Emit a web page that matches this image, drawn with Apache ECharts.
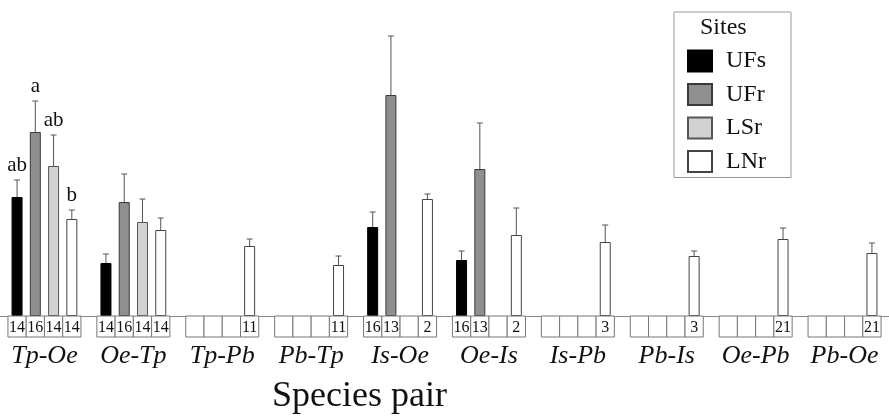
<!DOCTYPE html>
<html>
<head>
<meta charset="utf-8">
<script src="https://cdn.jsdelivr.net/npm/echarts@6/dist/echarts.min.js"></script>
<style>
  html, body { margin: 0; padding: 0; background: #fff; }
  #chart { width: 889px; height: 417px; }
</style>
</head>
<body>
<div id="chart"></div>
<script>
const categories = ["Tp-Oe", "Oe-Tp", "Tp-Pb", "Pb-Tp", "Is-Oe", "Oe-Is", "Is-Pb", "Pb-Is", "Oe-Pb", "Pb-Oe"];
const sites = ["UFs", "UFr", "LSr", "LNr"];

// bar heights (arbitrary units)
const meanUFs = [11.9, 5.3, null, null, 8.9, 5.6, null, null, null, null];
const meanUFr = [18.4, 11.4, null, null, 22.1, 14.7, null, null, null, null];
const meanLSr = [15.0, 9.4, null, null, null, null, null, null, null, null];
const meanLNr = [9.7, 8.6, 7.0, 5.1, 11.7, 8.1, 7.4, 6.0, 7.7, 6.3];

// error bar lengths
const errUFs = [1.7, 0.9, null, null, 1.5, 0.9, null, null, null, null];
const errUFr = [3.1, 2.8, null, null, 5.9, 4.6, null, null, null, null];
const errLSr = [3.1, 2.3, null, null, null, null, null, null, null, null];
const errLNr = [0.9, 1.2, 0.7, 0.9, 0.5, 2.7, 1.7, 0.5, 1.1, 1.0];

// sample sizes shown in the boxes under the bars
const nUFs = [14, 14, null, null, 16, 16, null, null, null, null];
const nUFr = [16, 16, null, null, 13, 13, null, null, null, null];
const nLSr = [14, 14, null, null, null, null, null, null, null, null];
const nLNr = [14, 14, 11, 11, 2, 2, 3, 3, 21, 21];

// significance letters over the Tp-Oe group
const sigLetters = ["ab", "a", "ab", "b"];

const means = [meanUFs, meanUFr, meanLSr, meanLNr];
const errs = [errUFs, errUFr, errLSr, errLNr];
const counts = [nUFs, nUFr, nLSr, nLNr];

const FONT = "'Liberation Serif', 'DejaVu Serif', serif";
const SLOT = 18.25;
const BOX_H = 21;
const fills = ["#000000", "#8f8f8f", "#d2d2d2", "#ffffff"];
const borders = ["#000000", "#3a3a3a", "#555555", "#444444"];

const chart = echarts.init(document.getElementById("chart"));

const barSeries = sites.map((name, s) => ({
  name,
  type: "bar",
  barWidth: 11,
  barGap: "66%",
  itemStyle: { color: fills[s], borderColor: borders[s], borderWidth: 1 },
  data: means[s].map(v => (v == null ? "-" : v)),
  z: 2
}));

const errSeries = sites.map((name, s) => {
  const data = [];
  means[s].forEach((m, i) => {
    if (m != null) data.push([i, m, errs[s][i]]);
  });
  return {
    type: "custom",
    name: name + "-err",
    data,
    z: 3,
    renderItem: (params, api) => {
      const cat = api.value(0);
      const m = api.value(1);
      const e = api.value(2);
      const x = api.coord([cat, 0])[0] + (s - 1.5) * SLOT;
      const y0 = api.coord([cat, m])[1];
      const y1 = api.coord([cat, m + e])[1];
      const children = [
        { type: "line", shape: { x1: x, y1: y0, x2: x, y2: y1 }, style: { stroke: "#555", lineWidth: 1 } },
        { type: "line", shape: { x1: x - 3, y1: y1, x2: x + 3, y2: y1 }, style: { stroke: "#555", lineWidth: 1 } }
      ];
      if (cat === 0) {
        children.push({
          type: "text",
          style: { x, y: y1 - 4, text: sigLetters[s], align: "center", verticalAlign: "bottom", font: "21px " + FONT, fill: "#111" }
        });
      }
      return { type: "group", children };
    }
  };
});

const boxData = [];
categories.forEach((c, i) => {
  sites.forEach((name, s) => {
    boxData.push([i, s, counts[s][i] == null ? "" : String(counts[s][i])]);
  });
});

const boxSeries = {
  type: "custom",
  name: "n",
  data: boxData,
  z: 4,
  renderItem: (params, api) => {
    const cat = api.value(0);
    const s = api.value(1);
    const label = boxData[params.dataIndex][2];
    const base = api.coord([cat, 0]);
    const xc = base[0] + (s - 1.5) * SLOT;
    return {
      type: "group",
      children: [
        { type: "rect", shape: { x: xc - SLOT / 2, y: base[1], width: SLOT, height: BOX_H }, style: { fill: "#fff", stroke: "#777", lineWidth: 1 } },
        { type: "text", style: { x: xc, y: base[1] + BOX_H / 2 + 1, text: label, align: "center", verticalAlign: "middle", font: "16px " + FONT, fill: "#111" } }
      ]
    };
  }
};

const option = {
  animation: false,
  backgroundColor: "#fff",
  grid: { left: 0, right: -8, top: 16, bottom: 101 },
  legend: {
    data: sites,
    orient: "vertical",
    left: 674,
    top: 12,
    icon: "rect",
    itemWidth: 24,
    itemHeight: 21,
    itemGap: 9.5,
    padding: [37, 25, 4, 13],
    borderColor: "#999",
    borderWidth: 1,
    backgroundColor: "#fff",
    textStyle: { fontFamily: FONT, fontSize: 24, color: "#111", padding: [0, 0, 0, 9] },
    selectedMode: false
  },
  xAxis: {
    type: "category",
    data: categories,
    axisLine: { lineStyle: { color: "#888", width: 1 } },
    axisTick: { show: false },
    axisLabel: { fontFamily: FONT, fontStyle: "italic", fontSize: 26, color: "#111", margin: 27, lineHeight: 26, interval: 0 }
  },
  yAxis: {
    type: "value",
    min: 0,
    max: 30,
    show: false
  },
  graphic: [
    { type: "text", left: 272, top: 379, z: 10, style: { text: "Species pair", font: "36px " + FONT, fill: "#111" } },
    { type: "text", left: 700, top: 16, z: 10, style: { text: "Sites", font: "24px " + FONT, fill: "#111" } }
  ],
  series: [...barSeries, ...errSeries, boxSeries]
};

chart.setOption(option);
</script>
</body>
</html>
